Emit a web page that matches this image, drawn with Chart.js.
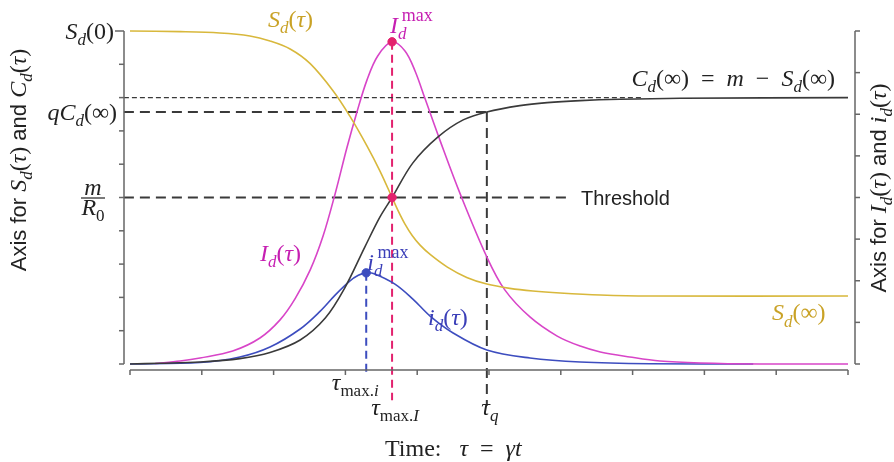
<!DOCTYPE html>
<html>
<head>
<meta charset="utf-8">
<script src="https://cdn.jsdelivr.net/npm/chart.js@4.4.1/dist/chart.umd.min.js"></script>
<style>
  html, body { margin: 0; padding: 0; background: #fff; }
  #wrap { width: 894px; height: 462px; }
</style>
</head>
<body>
<div id="wrap"><canvas id="c" width="894" height="462"></canvas></div>
<script>
// Dimensionless time tau = gamma * t and the tick positions of the three axes
const tauTicks   = [0, 1, 2, 3, 4, 5, 6, 7, 8, 9, 10];
const leftTicks  = [0, 1, 2, 3, 4, 5, 6, 7, 8, 9, 10];
const rightTicks = [0, 1, 2, 3, 4, 5, 6, 7, 8];

// S_d(tau): susceptible (left axis)
const tauS = [0, 0.70, 1.25, 1.67, 1.95, 2.23, 2.51, 2.83, 3.06, 3.30, 3.48, 3.65, 3.73, 3.83, 3.93, 4.04, 4.18, 4.42, 4.69, 4.97, 5.29, 5.61, 5.99, 6.55, 7.24, 10];
const susceptible = [10, 9.98, 9.94, 9.85, 9.70, 9.46, 9.02, 8.20, 7.45, 6.55, 5.80, 5.0, 4.62, 4.20, 3.86, 3.57, 3.29, 2.91, 2.60, 2.40, 2.27, 2.19, 2.13, 2.07, 2.04, 2.04];

// C_d(tau): cumulative cases (left axis)
const tauC = [0, 0.42, 0.975, 1.53, 1.95, 2.37, 2.72, 2.99, 3.27, 3.48, 3.65, 3.94, 4.29, 4.64, 4.97, 5.43, 5.81, 6.27, 6.82, 7.66, 10];
const cumulative = [0, 0.021, 0.06, 0.162, 0.345, 0.72, 1.38, 2.28, 3.51, 4.41, 5.0, 6.04, 6.82, 7.33, 7.57, 7.76, 7.85, 7.91, 7.95, 7.98, 8.0];

// I_d(tau): infected (right axis)
const tauI = [0.35, 0.70, 0.975, 1.43, 1.81, 2.09, 2.30, 2.51, 2.69, 2.86, 3.02, 3.16, 3.30, 3.45, 3.65, 3.83, 3.97, 4.11, 4.32, 4.60, 4.97, 5.22, 5.57, 5.95, 6.27, 6.55, 6.96, 7.38, 7.94, 8.77, 10];
const infected = [0.012, 0.072, 0.144, 0.312, 0.625, 1.06, 1.57, 2.26, 3.08, 4.11, 5.19, 6.05, 6.82, 7.40, 7.74, 7.52, 7.04, 6.37, 5.36, 4.08, 2.57, 1.78, 1.13, 0.67, 0.43, 0.29, 0.17, 0.072, 0.024, 0, 0];

// i_d(tau): daily incidence (right axis)
const tauInc = [0, 0.975, 1.53, 1.95, 2.37, 2.65, 2.86, 3.06, 3.18, 3.29, 3.40, 3.69, 3.94, 4.18, 4.50, 4.97, 5.57, 6.27, 7.24, 8.68];
const incidence = [0, 0.036, 0.168, 0.408, 0.841, 1.27, 1.66, 1.99, 2.13, 2.19, 2.17, 1.92, 1.56, 1.15, 0.745, 0.336, 0.144, 0.048, 0.007, 0];

// Characteristic levels and times
const S0 = 10, Sinf = 2.04, Cinf = 8, qCinf = 7.57, threshold = 5;
const tauMaxI = 3.65, peakI = 7.74;
const tauMaxInc = 3.29, peakInc = 2.19;
const tauQ = 4.97;

const pairs = (xs, ys) => xs.map((x, k) => ({ x, y: ys[k] }));

const GOLD = '#d8b83c', GOLD_T = '#c9a226';
const MAG = '#d845c8', MAG_T = '#c61fb2';
const BLUE = '#3d4dbf', BLUE_T = '#3b3fb8';
const PINK = '#e3226e';
const DARK = '#3a3a3a';
const AXIS = '#666';

const curve = (data, color, axis) => ({
  data, yAxisID: axis, showLine: true, borderColor: color, borderWidth: 1.6,
  pointRadius: 0, tension: 0.35, clip: false, order: 5
});
const guide = (data, color, axis, dash, width) => ({
  data, yAxisID: axis, showLine: true, borderColor: color, borderWidth: width,
  borderDash: dash, pointRadius: 0, tension: 0, clip: false, order: 8
});
const dot = (x, y, color, axis) => ({
  data: [{ x, y }], yAxisID: axis, showLine: false, pointRadius: 4.2,
  pointBackgroundColor: color, pointBorderColor: color, clip: false, order: 1
});

// ---------- rich text helper (italic maths, sub/superscripts) ----------
const SERIF = '"Liberation Serif", "DejaVu Serif", serif';
const SANS = '"Liberation Sans", Arial, sans-serif';
const SP = '\u2002';   // wide space around operators
function fontFor(s, size) {
  const small = Math.round(size * 0.72);
  switch (s) {
    case 'i': return `italic ${size}px ${SERIF}`;
    case 'r': return `${size}px ${SERIF}`;
    case 'sub': return `italic ${small}px ${SERIF}`;
    case 'subr': return `${small}px ${SERIF}`;
    case 'sup': return `${Math.round(size * 0.76)}px ${SERIF}`;
    case 'sans': return `${Math.round(size * 0.9)}px ${SANS}`;
  }
}
function shiftFor(s, size) {
  if (s === 'sub' || s === 'subr') return size * 0.27;
  if (s === 'sup') return -size * 0.48;
  return 0;
}
function rich(ctx, parts, x, y, align, size, color) {
  ctx.save();
  ctx.fillStyle = color;
  ctx.textBaseline = 'alphabetic';
  ctx.textAlign = 'left';
  let pos = 0, maxw = 0;
  const items = parts.map(([t, s, keep]) => {
    ctx.font = fontFor(s, size);
    const w = ctx.measureText(t).width;
    const dx = s === 'sup' ? size * 0.15 : 0;
    const it = { t, s, x: pos + dx };
    if (!keep) pos += w;
    maxw = Math.max(maxw, it.x + w);
    return it;
  });
  const total = Math.max(pos, maxw);
  const x0 = align === 'center' ? x - total / 2 : align === 'right' ? x - total : x;
  items.forEach(it => {
    ctx.font = fontFor(it.s, size);
    ctx.fillText(it.t, x0 + it.x, y + shiftFor(it.s, size));
  });
  ctx.restore();
}

// ---------- axes and annotations ----------
const decorations = {
  id: 'decorations',
  afterDraw(chart) {
    const ctx = chart.ctx;
    const X = v => chart.scales.x.getPixelForValue(v);
    const YL = v => chart.scales.yL.getPixelForValue(v);
    const YR = v => chart.scales.yR.getPixelForValue(v);
    const area = chart.chartArea;

    ctx.save();
    ctx.strokeStyle = AXIS;
    ctx.lineWidth = 1.5;
    // left axis
    const xl = area.left - 6;
    ctx.beginPath(); ctx.moveTo(xl, YL(10)); ctx.lineTo(xl, YL(0)); ctx.stroke();
    leftTicks.forEach(v => {
      const len = v === S0 ? 9 : 5;
      ctx.beginPath(); ctx.moveTo(xl - len, YL(v)); ctx.lineTo(xl, YL(v)); ctx.stroke();
    });
    // right axis
    const xr = area.right + 7;
    ctx.beginPath(); ctx.moveTo(xr, YR(8)); ctx.lineTo(xr, YR(0)); ctx.stroke();
    rightTicks.forEach(v => {
      ctx.beginPath(); ctx.moveTo(xr, YR(v)); ctx.lineTo(xr + 5, YR(v)); ctx.stroke();
    });
    // time axis
    const yb = area.bottom + 6;
    ctx.beginPath(); ctx.moveTo(X(0), yb); ctx.lineTo(X(10), yb); ctx.stroke();
    tauTicks.forEach(v => {
      ctx.beginPath(); ctx.moveTo(X(v), yb); ctx.lineTo(X(v), yb + 5); ctx.stroke();
    });
    ctx.restore();

    const M = 24;
    // left-axis labels
    rich(ctx, [['S', 'i'], ['d', 'sub'], ['(0)', 'r']], xl - 10, YL(S0) + 8, 'right', M, '#222');
    rich(ctx, [['qC', 'i'], ['d', 'sub'], ['(∞)', 'r']], xl - 7, YL(qCinf) + 8, 'right', M, '#222');
    const mx = xl - 31;
    rich(ctx, [['m', 'i']], mx, YL(threshold) - 3, 'center', M, '#222');
    ctx.save(); ctx.strokeStyle = '#222'; ctx.lineWidth = 1.2;
    ctx.beginPath(); ctx.moveTo(mx - 12, YL(threshold) + 0.5); ctx.lineTo(mx + 12, YL(threshold) + 0.5); ctx.stroke();
    ctx.restore();
    rich(ctx, [['R', 'i'], ['0', 'subr']], mx, YL(threshold) + 17, 'center', M, '#222');

    // curve labels
    rich(ctx, [['S', 'i'], ['d', 'sub'], ['(', 'r'], ['τ', 'i'], [')', 'r']], 268, 27, 'left', M, GOLD_T);
    rich(ctx, [['I', 'i'], ['max', 'sup', true], ['d', 'sub']], X(tauMaxI) - 2, YR(peakI) - 9, 'left', M, MAG_T);
    rich(ctx, [['C', 'i'], ['d', 'sub'], ['(∞)' + SP + '=' + SP, 'r'], ['m', 'i'], [SP + '−' + SP, 'r'], ['S', 'i'], ['d', 'sub'], ['(∞)', 'r']],
         X(10) - 13, YL(Cinf) - 12, 'right', M, '#222');
    ctx.save();
    ctx.font = `20px ${SANS}`; ctx.fillStyle = '#222'; ctx.textBaseline = 'alphabetic';
    ctx.fillText('Threshold', 581, YL(threshold) + 7);
    ctx.restore();
    rich(ctx, [['I', 'i'], ['d', 'sub'], ['(', 'r'], ['τ', 'i'], [')', 'r']], 260, 261, 'left', M, MAG_T);
    rich(ctx, [['i', 'i'], ['max', 'sup', true], ['d', 'sub']], X(tauMaxInc) + 1, YR(peakInc) - 3, 'left', M, BLUE_T);
    rich(ctx, [['i', 'i'], ['d', 'sub'], ['(', 'r'], ['τ', 'i'], [')', 'r']], 428, 325, 'left', M, BLUE_T);
    rich(ctx, [['S', 'i'], ['d', 'sub'], ['(∞)', 'r']], 772, YL(Sinf) + 24, 'left', M, GOLD_T);

    // time markers
    rich(ctx, [['τ', 'i'], ['max.', 'subr'], ['i', 'sub']], X(tauMaxInc) - 11, yb + 20, 'center', M, '#222');
    rich(ctx, [['τ', 'i'], ['max.', 'subr'], ['I', 'sub']], X(tauMaxI) + 3, yb + 45, 'center', M, '#222');
    rich(ctx, [['τ', 'i'], ['q', 'sub']], X(tauQ) + 3, yb + 45, 'center', M, '#222');
    rich(ctx, [['Time:' + SP + ' ', 'r'], ['τ', 'i'], [SP + '=' + SP, 'r'], ['γt', 'i']], 385, 456, 'left', M, '#222');

    // axis titles
    const title = (parts, cx, cy) => {
      ctx.save(); ctx.translate(cx, cy); ctx.rotate(-Math.PI / 2);
      rich(ctx, parts, 0, 0, 'center', M, '#222');
      ctx.restore();
    };
    title([['Axis for ', 'sans'], ['S', 'i'], ['d', 'sub'], ['(', 'r'], ['τ', 'i'], [')', 'r'], [' and ', 'sans'], ['C', 'i'], ['d', 'sub'], ['(', 'r'], ['τ', 'i'], [')', 'r']], 26, 160);
    title([['Axis for ', 'sans'], ['I', 'i'], ['d', 'sub'], ['(', 'r'], ['τ', 'i'], [')', 'r'], [' and ', 'sans'], ['i', 'i'], ['d', 'sub'], ['(', 'r'], ['τ', 'i'], [')', 'r']], 886, 188);
  }
};

new Chart(document.getElementById('c'), {
  type: 'scatter',
  data: {
    datasets: [
      dot(tauMaxI, peakI, PINK, 'yR'),
      dot(tauMaxI, threshold, PINK, 'yL'),
      dot(tauMaxInc, peakInc, BLUE, 'yR'),
      curve(pairs(tauS, susceptible), GOLD, 'yL'),
      curve(pairs(tauC, cumulative), DARK, 'yL'),
      curve(pairs(tauI, infected), MAG, 'yR'),
      curve(pairs(tauInc, incidence), BLUE, 'yR'),
      guide([{ x: -0.085, y: Cinf }, { x: 7.15, y: Cinf }], DARK, 'yL', [5, 3], 1.3),
      guide([{ x: -0.085, y: qCinf }, { x: tauQ, y: qCinf }], DARK, 'yL', [10, 6], 2),
      guide([{ x: tauQ, y: qCinf }, { x: tauQ, y: -1.25 }], DARK, 'yL', [10, 6], 2),
      guide([{ x: -0.085, y: threshold }, { x: 6.15, y: threshold }], DARK, 'yL', [10, 6], 2),
      guide([{ x: tauMaxI, y: peakI }, { x: tauMaxI, y: -0.87 }], PINK, 'yR', [8, 5], 2),
      guide([{ x: tauMaxInc, y: peakInc }, { x: tauMaxInc, y: -0.2 }], BLUE, 'yR', [8, 5], 2)
    ]
  },
  options: {
    responsive: false,
    animation: false,
    devicePixelRatio: 1,
    layout: { padding: { left: 130, right: 46, top: 31, bottom: 98 } },
    plugins: { legend: { display: false }, tooltip: { enabled: false } },
    scales: {
      x: { type: 'linear', min: 0, max: 10, display: false },
      yL: { type: 'linear', position: 'left', min: 0, max: 10, display: false },
      yR: { type: 'linear', position: 'right', min: 0, max: 8, display: false }
    }
  },
  plugins: [decorations]
});
</script>
</body>
</html>
